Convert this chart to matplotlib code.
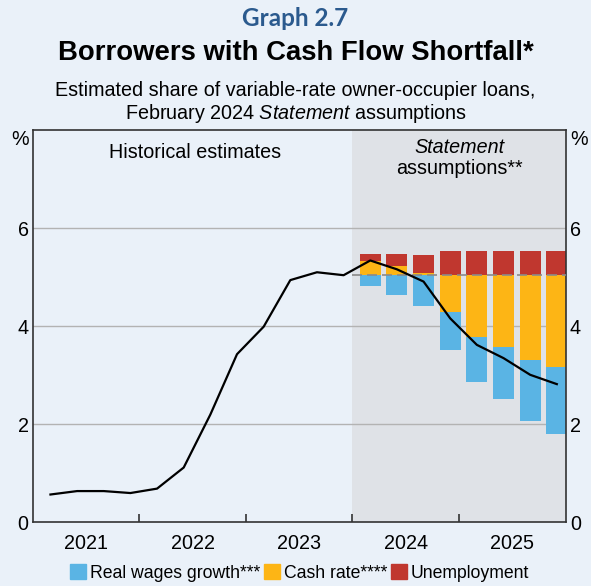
import numpy as np
import matplotlib.pyplot as plt
from matplotlib.patches import Patch

plt.rcParams['font.family'] = ['Liberation Sans', 'DejaVu Sans']
plt.rcParams['mathtext.fontset'] = 'custom'
plt.rcParams['mathtext.it'] = 'Liberation Sans:italic'
plt.rcParams['mathtext.rm'] = 'Liberation Sans'

# quarterly estimates, 2021 Q1 to 2025 Q4 (per cent of loans)
years = [2021] * 4 + [2022] * 4 + [2023] * 4 + [2024] * 4 + [2025] * 4
quarter = [1, 2, 3, 4] * 5
shortfall = [0.57, 0.64, 0.64, 0.60, 0.69, 1.12, 2.20, 3.43,
             3.99, 4.94, 5.10, 5.04, 5.34, 5.16, 4.91, 4.16,
             3.62, 3.35, 3.01, 2.82]

# contributions over the assumption period (2024 Q1 to 2025 Q4),
# relative to the 2023 Q4 level
base_level = 5.04
cash_rate = [0.28, 0.18, 0.04, -0.74, -1.26, -1.46, -1.72, -1.87]
real_wages = [-0.21, -0.40, -0.62, -0.78, -0.91, -1.06, -1.25, -1.36]
unemployment = [0.16, 0.26, 0.38, 0.50, 0.50, 0.50, 0.50, 0.50]

year_labels = ['2021', '2022', '2023', '2024', '2025']

bg = '#eaf1f9'
shade = '#dfe2e7'
c_wages = '#5ab4e4'
c_cash = '#fdb515'
c_unemp = '#c0372f'
fs = 14.2

x = np.array(years) + (np.array(quarter) - 1) / 4 + 1 / 6
x_bars = x[-8:]

fig = plt.figure(figsize=(5.91, 5.86), dpi=100, facecolor=bg)
ax = fig.add_axes([0.0553, 0.1084, 0.9019, 0.6698])
ax.set_facecolor(bg)

ax.set_xlim(2021, 2026)
ax.set_ylim(0, 8)

ax.axvspan(2024, 2026, color=shade, zorder=0, lw=0)
for g in [2, 4, 6]:
    ax.axhline(g, color='#b3b3b3', lw=1, zorder=1)

# stacked contributions: cash rate first, then wages and unemployment
pos = np.full(8, base_level)
neg = np.full(8, base_level)
for vals, col in [(cash_rate, c_cash), (real_wages, c_wages), (unemployment, c_unemp)]:
    vals = np.array(vals)
    bottom = np.where(vals >= 0, pos, neg)
    ax.bar(x_bars, vals, bottom=bottom, width=0.197, color=col, zorder=2, lw=0)
    pos = pos + np.where(vals >= 0, vals, 0)
    neg = neg + np.where(vals < 0, vals, 0)

ax.plot([2024, 2026], [base_level, base_level], color='#8a8a8a', lw=1.2,
        ls=(0, (6, 3)), zorder=3)
ax.plot(x, shortfall, color='black', lw=1.6, zorder=4)

# axes styling
for s in ax.spines.values():
    s.set_color('#333333')
    s.set_linewidth(1.2)
ax.set_xticks([2022, 2023, 2024, 2025])
ax.set_xticklabels([])
ax.tick_params(axis='x', direction='in', length=6, width=1.2, color='#333333')
ax.set_xticks([2021.5 + i for i in range(5)], minor=True)
ax.set_xticklabels(year_labels, minor=True, fontsize=fs)
ax.tick_params(axis='x', which='minor', length=0, pad=8)

ax.set_yticks([0, 2, 4, 6])
ax.tick_params(axis='y', length=0, labelsize=fs, pad=3,
               labelleft=True, labelright=True)

ax.text(-0.008, 1.0, '%', transform=ax.transAxes, ha='right', va='top', fontsize=fs)
ax.text(1.008, 1.0, '%', transform=ax.transAxes, ha='left', va='top', fontsize=fs)

ax.text(2022.52, 7.55, 'Historical estimates', ha='center', va='center', fontsize=fs)
ax.text(2025.0, 7.64, 'Statement', ha='center', va='center', fontsize=fs, style='italic')
ax.text(2025.0, 7.21, 'assumptions**', ha='center', va='center', fontsize=fs)

# titles
fig.text(0.5, 0.968, 'Graph 2.7', ha='center', va='center', fontsize=17.5,
         color='#2b5a8e', fontweight='bold', family=['Lato', 'DejaVu Sans'])
fig.text(0.5, 0.91, 'Borrowers with Cash Flow Shortfall*', ha='center', va='center',
         fontsize=19.8, fontweight='bold')
fig.text(0.5, 0.846, 'Estimated share of variable-rate owner-occupier loans,',
         ha='center', va='center', fontsize=14.2)
fig.text(0.5, 0.806, 'February 2024 $\\it{Statement}$ assumptions',
         ha='center', va='center', fontsize=14.2)

handles = [Patch(color=c_wages, label='Real wages growth***'),
           Patch(color=c_cash, label='Cash rate****'),
           Patch(color=c_unemp, label='Unemployment')]
fig.legend(handles=handles, loc='center', bbox_to_anchor=(0.507, 0.022), ncol=3,
           frameon=False, fontsize=12.7, handlelength=0.9, handleheight=0.9,
           handletextpad=0.22, columnspacing=0.22, borderaxespad=0)

fig.savefig('out.png', dpi=100, facecolor=bg)
